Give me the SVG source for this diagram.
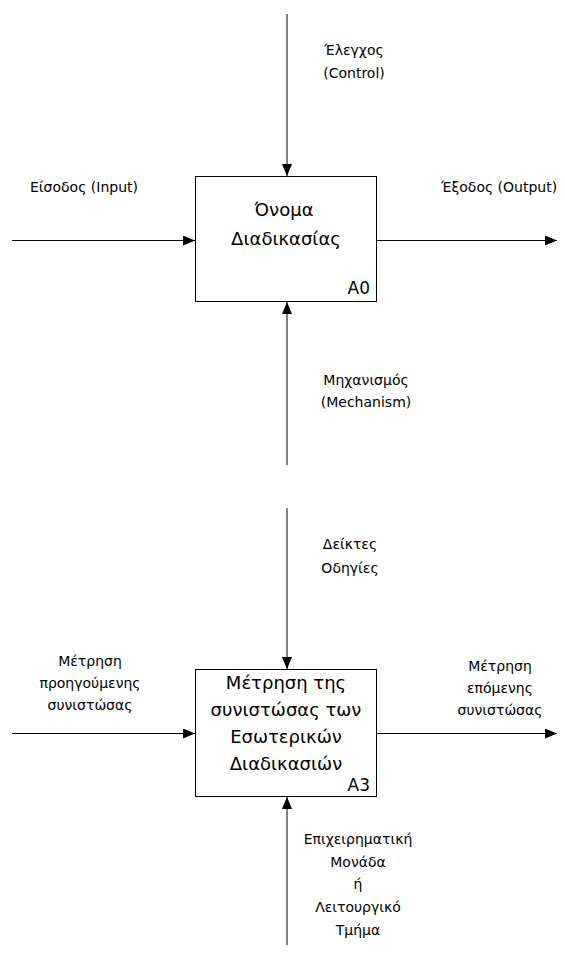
<svg xmlns="http://www.w3.org/2000/svg" width="565" height="956" viewBox="0 0 565 956">
  <style>
    .box { fill: #ffffff; stroke: #000000; stroke-width: 1; }
    .conn { stroke: #000000; stroke-width: 1; fill: none; marker-end: url(#arrow); }
    .lbl { font-family: "DejaVu Sans", "Liberation Sans", sans-serif; font-size: 14px; fill: #000000; }
    .name { font-family: "DejaVu Sans", "Liberation Sans", sans-serif; font-size: 18px; fill: #000000; text-anchor: middle; }
    .code { font-family: "DejaVu Sans", "Liberation Sans", sans-serif; font-size: 17px; fill: #000000; text-anchor: end; }
    .mid { text-anchor: middle; }
  </style>
  <defs>
    <marker id="arrow" viewBox="0 0 12 10" refX="12" refY="5" markerWidth="12" markerHeight="10" markerUnits="userSpaceOnUse" orient="auto">
      <path d="M0,0 L12,5 L0,10 Z" fill="#000000"/>
    </marker>
  </defs>

  <rect width="565" height="956" fill="#ffffff"/>

  <!-- connectors: control (top), input (left), output (right), mechanism (bottom) -->
  <g id="connectors">
    <!-- A0 -->
    <line class="conn" x1="287" y1="14" x2="287" y2="176"/>
    <line class="conn" x1="12" y1="240.5" x2="195" y2="240.5"/>
    <line class="conn" x1="377" y1="240.5" x2="557" y2="240.5"/>
    <line class="conn" x1="287" y1="465" x2="287" y2="302"/>
    <!-- A3 -->
    <line class="conn" x1="287" y1="508" x2="287" y2="669"/>
    <line class="conn" x1="12" y1="733.5" x2="195" y2="733.5"/>
    <line class="conn" x1="377" y1="733.5" x2="557" y2="733.5"/>
    <line class="conn" x1="287" y1="945" x2="287" y2="797"/>
  </g>

  <!-- A0 process box -->
  <g id="node-a0">
    <rect class="box" x="195.5" y="176.5" width="181" height="125"/>
    <text class="name" x="284" y="216">Όνομα</text>
    <text class="name" x="286" y="245">Διαδικασίας</text>
    <text class="code" x="370" y="294">A0</text>
  </g>

  <!-- A0 arrow labels -->
  <g id="label-control">
    <text class="lbl mid" x="354" y="55">Έλεγχος</text>
    <text class="lbl mid" x="354" y="78">(Control)</text>
  </g>
  <g id="label-input">
    <text class="lbl" x="30" y="192">Είσοδος (Input)</text>
  </g>
  <g id="label-output">
    <text class="lbl" x="441" y="192">Έξοδος (Output)</text>
  </g>
  <g id="label-mechanism">
    <text class="lbl mid" x="366" y="385">Μηχανισμός</text>
    <text class="lbl mid" x="366" y="407">(Mechanism)</text>
  </g>

  <!-- A3 process box -->
  <g id="node-a3">
    <rect class="box" x="195.5" y="669.5" width="181" height="127"/>
    <text class="name" x="286" y="689">Μέτρηση της</text>
    <text class="name" x="286" y="716">συνιστώσας των</text>
    <text class="name" x="286" y="743">Εσωτερικών</text>
    <text class="name" x="286" y="770">Διαδικασιών</text>
    <text class="code" x="370" y="791">A3</text>
  </g>

  <!-- A3 arrow labels -->
  <g id="label-indicators">
    <text class="lbl mid" x="350" y="549">Δείκτες</text>
    <text class="lbl mid" x="350" y="573">Οδηγίες</text>
  </g>
  <g id="label-prev">
    <text class="lbl mid" x="90" y="666">Μέτρηση</text>
    <text class="lbl mid" x="90" y="688">προηγούμενης</text>
    <text class="lbl mid" x="90" y="710">συνιστώσας</text>
  </g>
  <g id="label-next">
    <text class="lbl mid" x="500" y="671">Μέτρηση</text>
    <text class="lbl mid" x="500" y="693">επόμενης</text>
    <text class="lbl mid" x="500" y="715">συνιστώσας</text>
  </g>
  <g id="label-unit">
    <text class="lbl mid" x="358" y="844">Επιχειρηματική</text>
    <text class="lbl mid" x="358" y="867">Μονάδα</text>
    <text class="lbl mid" x="358" y="889">ή</text>
    <text class="lbl mid" x="358" y="912">Λειτουργικό</text>
    <text class="lbl mid" x="358" y="935">Τμήμα</text>
  </g>
</svg>
